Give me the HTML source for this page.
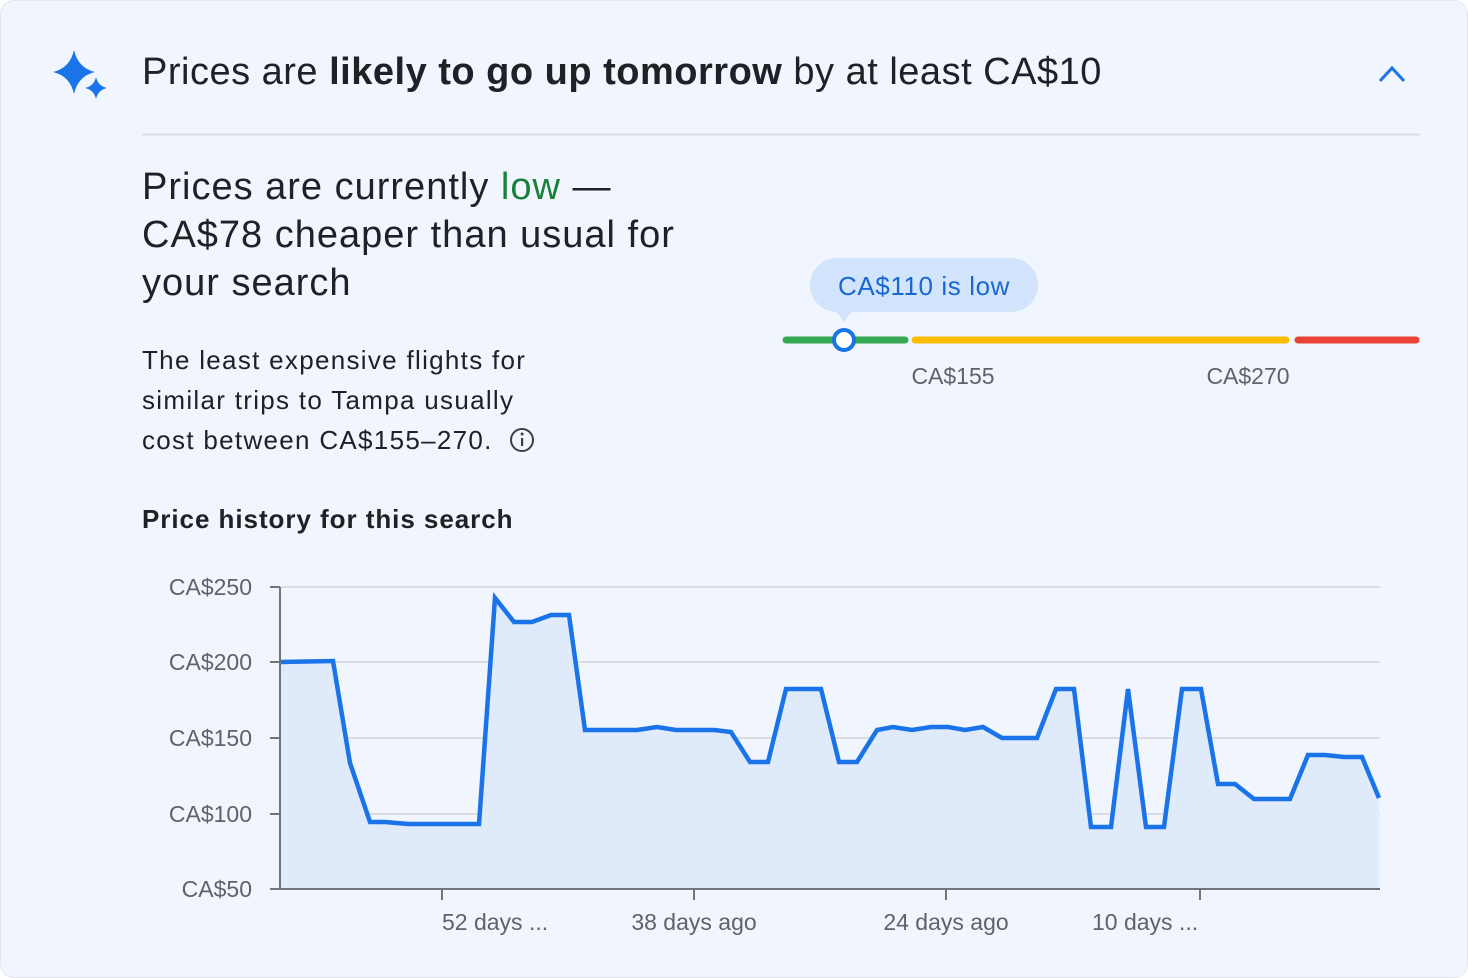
<!DOCTYPE html>
<html><head><meta charset="utf-8"><style>
html,body{margin:0;padding:0;width:1468px;height:978px;overflow:hidden;background:#fff;}
body{font-family:"Liberation Sans",sans-serif;color:#202124;position:relative;}
.card{position:absolute;left:0;top:0;width:1466px;height:976px;background:#f1f6fe;border:1px solid #e3e8ef;border-radius:14px;}
.t{position:absolute;white-space:nowrap;}
</style></head><body>
<div class="card"></div>
<svg class="t" style="left:0;top:0" width="1468" height="978">
  <path d="M74 50 Q78 68 95 72 Q78 76 74 94 Q70 76 53 72 Q70 68 74 50Z" fill="#1a73e8"/>
  <path d="M96 77 Q98 86 107 88 Q98 90 96 99 Q94 90 85 88 Q94 86 96 77Z" fill="#1a73e8"/>
  <path d="M1380 81 L1392 68 L1404 81" fill="none" stroke="#1a73e8" stroke-width="3"/>
  <line x1="142" y1="134.5" x2="1420" y2="134.5" stroke="#dadce0" stroke-width="2"/>
  <line x1="786" y1="340" x2="905" y2="340" stroke="#34a853" stroke-width="7" stroke-linecap="round"/>
  <line x1="915" y1="340" x2="1286" y2="340" stroke="#fbbc04" stroke-width="7" stroke-linecap="round"/>
  <line x1="1298" y1="340" x2="1416" y2="340" stroke="#ea4335" stroke-width="7" stroke-linecap="round"/>
  <rect x="810" y="258" width="228" height="54" rx="27" fill="#d2e3fc"/>
  <path d="M836 311 L844 322 L852 311Z" fill="#d2e3fc"/>
  <circle cx="844" cy="340" r="10" fill="#fff" stroke="#1a73e8" stroke-width="4"/>
  <circle cx="522" cy="440" r="11" fill="none" stroke="#3c4043" stroke-width="2"/>
  <rect x="521" y="438" width="2.2" height="8" fill="#3c4043"/><circle cx="522.1" cy="434" r="1.5" fill="#3c4043"/>
  <g stroke="#dadce0" stroke-width="2">
    <line x1="270" y1="587" x2="1380" y2="587"/>
    <line x1="270" y1="662" x2="1380" y2="662"/>
    <line x1="270" y1="738" x2="1380" y2="738"/>
    <line x1="270" y1="814" x2="1380" y2="814"/>
  </g>
  <polygon fill="#dfeafb" points="280,889 280,662 333,661 350,763 370,822 385,822 408,824 479,824 495,598 514,622 532,622 551,615 569,615 585,730 637,730 657,727 676,730 714,730 731,732 750,762 768,762 786,689 821,689 839,762 857,762 877,730 893,727 912,730 931,727 948,727 965,730 983,727 1002,738 1037,738 1056,689 1074,689 1091,827 1111,827 1128,689 1146,827 1164,827 1182,689 1201,689 1218,784 1235,784 1254,799 1290,799 1308,755 1325,755 1344,757 1362,757 1379,798 1379,889"/>
  <polyline fill="none" stroke="#1a73e8" stroke-width="4.5" stroke-linejoin="miter" points="280,662 333,661 350,763 370,822 385,822 408,824 479,824 495,598 514,622 532,622 551,615 569,615 585,730 637,730 657,727 676,730 714,730 731,732 750,762 768,762 786,689 821,689 839,762 857,762 877,730 893,727 912,730 931,727 948,727 965,730 983,727 1002,738 1037,738 1056,689 1074,689 1091,827 1111,827 1128,689 1146,827 1164,827 1182,689 1201,689 1218,784 1235,784 1254,799 1290,799 1308,755 1325,755 1344,757 1362,757 1379,798"/>
  <g stroke="#70757a" stroke-width="2">
    <line x1="280" y1="587" x2="280" y2="889"/>
    <line x1="270" y1="889" x2="1380" y2="889"/>
    <line x1="270" y1="587" x2="280" y2="587"/>
    <line x1="270" y1="662" x2="280" y2="662"/>
    <line x1="270" y1="738" x2="280" y2="738"/>
    <line x1="270" y1="814" x2="280" y2="814"/>
    <line x1="442" y1="889" x2="442" y2="900"/>
    <line x1="694" y1="889" x2="694" y2="900"/>
    <line x1="946" y1="889" x2="946" y2="900"/>
    <line x1="1200" y1="889" x2="1200" y2="900"/>
  </g>
  <g font-family="Liberation Sans, sans-serif" font-size="23" fill="#5f6368" text-anchor="end">
    <text x="252" y="595">CA$250</text>
    <text x="252" y="670">CA$200</text>
    <text x="252" y="746">CA$150</text>
    <text x="252" y="822">CA$100</text>
    <text x="252" y="897">CA$50</text>
  </g>
  <g font-family="Liberation Sans, sans-serif" font-size="23" fill="#5f6368">
    <text x="442" y="930">52 days ...</text>
    <text x="694" y="930" text-anchor="middle">38 days ago</text>
    <text x="946" y="930" text-anchor="middle">24 days ago</text>
    <text x="1092" y="930">10 days ...</text>
    <text x="953" y="384" text-anchor="middle">CA$155</text>
    <text x="1248" y="384" text-anchor="middle">CA$270</text>
  </g>
  <text x="924" y="295" text-anchor="middle" font-family="Liberation Sans, sans-serif" font-size="26" letter-spacing="0.6" fill="#1967d2">CA$110 is low</text>
</svg>
<div class="t" style="left:142px;top:51px;font-size:38px;letter-spacing:0.5px;">Prices are <b>likely to go up tomorrow</b> by at least CA$10</div>
<div class="t" style="left:142px;top:163px;font-size:38px;line-height:48px;letter-spacing:1px;">Prices are currently <span style="color:#188038">low</span> —<br>CA$78 cheaper than usual for<br>your search</div>
<div class="t" style="left:142px;top:340px;font-size:26px;line-height:40px;letter-spacing:1.3px;">The least expensive flights for<br>similar trips to Tampa usually<br>cost between CA$155–270.</div>
<div class="t" style="left:142px;top:504px;font-size:26px;font-weight:bold;letter-spacing:0.95px;">Price history for this search</div>
</body></html>
